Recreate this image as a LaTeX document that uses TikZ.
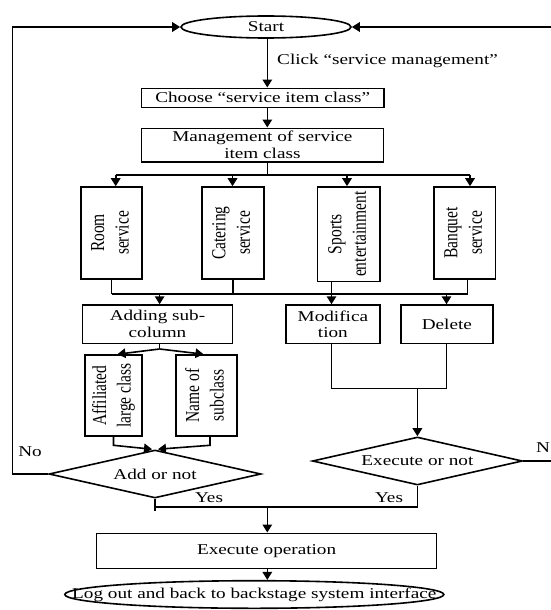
\documentclass[tikz,border=0pt]{standalone}
\usepackage{fontspec}
\setmainfont{Liberation Serif}[FakeStretch=1.28]
\newfontfamily\rotfont{Liberation Serif}
\usetikzlibrary{shapes.geometric,arrows.meta,calc}
\newcommand\rottext[2]{\rotatebox{90}{\scalebox{1}[1.28]{\rotfont\fontsize{15.5}{19.2}\selectfont\begin{tabular}{@{}c@{}}#1\\#2\end{tabular}}}}
\tikzset{
  line/.style={line width=1.6pt},
  arr/.style={line width=1.6pt,-{Triangle[width=9.5pt,length=8pt]}},
  box/.style={draw,line width=1.6pt,rectangle,inner sep=0pt,align=center,font=\fontsize{15}{16.7}\selectfont},
  oval/.style={draw,line width=1.6pt,ellipse,inner sep=0pt,font=\fontsize{15}{16.7}\selectfont},
  dia/.style={draw,line width=1.6pt,diamond,inner sep=0pt,aspect=4.4,font=\fontsize{15}{16.7}\selectfont},
  lbl/.style={inner sep=0pt,font=\fontsize{15}{16.7}\selectfont}
}
\begin{document}
\begin{tikzpicture}[x=1pt,y=-1pt]
\useasboundingbox (0,0) rectangle (550,610);
% nodes
\node[oval,minimum width=170pt,minimum height=22pt] (start) at (266,27) {Start};
\node[box,minimum width=242.6pt,minimum height=19pt] (choose) at (262.7,97.8) {Choose “service item class”};
\node[box,minimum width=242pt,minimum height=33.4pt] (mgmt) at (262.4,145) {Management of service\\item class};
\node[box,minimum width=61pt,minimum height=92pt] (room) at (111.4,233) {\rottext{Room}{service}};
\node[box,minimum width=62pt,minimum height=92pt] (cater) at (232.7,233) {\rottext{Catering}{service}};
\node[box,minimum width=62.5pt,minimum height=94.7pt] (sports) at (348.7,234.3) {\rottext{Sports}{entertainment}};
\node[box,minimum width=61.7pt,minimum height=92pt] (banq) at (464.7,233) {\rottext{Banquet}{service}};
\node[box,minimum width=150pt,minimum height=38.3pt] (adding) at (157.5,324.2) {Adding sub-\\column};
\node[box,minimum width=94pt,minimum height=38.3pt] (mod) at (332.9,324.2) {Modifica\\tion};
\node[box,minimum width=92pt,minimum height=38.3pt] (del) at (446.9,324.2) {Delete};
\node[box,minimum width=57pt,minimum height=81pt] (aff) at (113.5,395.5) {\rottext{Affiliated}{large class}};
\node[box,minimum width=61pt,minimum height=81pt] (name) at (206.5,395.5) {\rottext{Name of}{subclass}};
\node[dia,minimum width=212pt,minimum height=48pt] (add) at (155,474) {Add or not};
\node[dia,minimum width=210pt,minimum height=48pt] (exec) at (417.4,461) {Execute or not};
\node[box,minimum width=340pt,minimum height=35pt] (op) at (266.6,550.8) {Execute operation};
\node[oval,minimum width=379pt,minimum height=27.6pt] (logout) at (254.3,594.5) {\makebox[0pt]{Log out and back to backstage system interface}};
% labels
\node[lbl,anchor=west] (click) at (277,61) {Click “service management”};
\node[lbl] (nolbl) at (30,452) {No};
\node[lbl,anchor=west] (nlbl) at (536,448) {N};
\node[lbl] (yes1) at (209,498) {Yes};
\node[lbl] (yes2) at (389,498) {Yes};
% coordinates
\coordinate (colx) at (267.3,0);
\coordinate (busC) at (267.3,175);
\coordinate (b1) at (115.7,175);
\coordinate (b2) at (232.5,175);
\coordinate (b3) at (347,175);
\coordinate (b4) at (470,175);
\coordinate (l1) at (111.5,294);
\coordinate (l2) at (232.7,294);
\coordinate (lm) at (331.5,294);
\coordinate (l4) at (467.5,294);
\coordinate (la) at (159.6,294);
\coordinate (ld) at (446.5,294);
\coordinate (sp) at (159.6,349);
\coordinate (mY) at (0,388.3);
\coordinate (yY) at (0,507);
\coordinate (noL) at (12.3,27);
\coordinate (noR) at (552,27);
% top flow
\draw[arr] (start.south -| colx) -- (choose.north -| colx);
\draw[arr] (choose.south -| colx) -- (mgmt.north -| colx);
\draw[line] (mgmt.south -| busC) -- (busC);
\draw[line] (b1) -- (b4);
\draw[arr] (b1) -- (b1 |- room.north);
\draw[arr] (b2) -- (b2 |- cater.north);
\draw[arr] (b3) -- (b3 |- sports.north);
\draw[arr] (b4) -- (b4 |- banq.north);
% lower bus
\draw[line] (room.south -| l1) -- (l1);
\draw[line] (cater.south -| l2) -- (l2);
\draw[line] (sports.south -| lm) -- (lm);
\draw[line] (banq.south -| l4) -- (l4);
\draw[line] (l1) -- (l4);
\draw[arr] (la) -- (la |- adding.north);
\draw[arr] (lm) -- (lm |- mod.north);
\draw[arr] (ld) -- (ld |- del.north);
% adding split
\draw[line] (adding.south -| sp) -- (sp);
\draw[arr] (sp) -- ([xshift=4pt]aff.north);
\draw[arr] (sp) -- ([xshift=-3pt]name.north);
\draw[arr] (aff.south) -- ++(0,8.5) -- ([xshift=-3pt]add.north);
\draw[arr] ([xshift=3.5pt]name.south) -- ++(0,8.5) -- ([xshift=3pt]add.north);
% modification / delete merge
\draw[line] (mod.south -| lm) -- (mY -| lm) -- (mY -| ld) -- (del.south -| ld);
\draw[arr] (mY -| exec.north) -- (exec.north);
% No loops
\draw[arr] (add.west) -| (noL) -- (start.west);
\draw[arr] (exec.east) -| (noR) -- (start.east);
% Yes merge
\draw[line] (add.south) -- ++(0,12);
\draw[line] (yY -| add.south) -- (yY -| exec.south) -- (exec.south);
\draw[arr] (yY -| colx) -- (op.north -| colx);
\draw[arr] (op.south -| colx) -- (logout.north -| colx);
\end{tikzpicture}
\end{document}
